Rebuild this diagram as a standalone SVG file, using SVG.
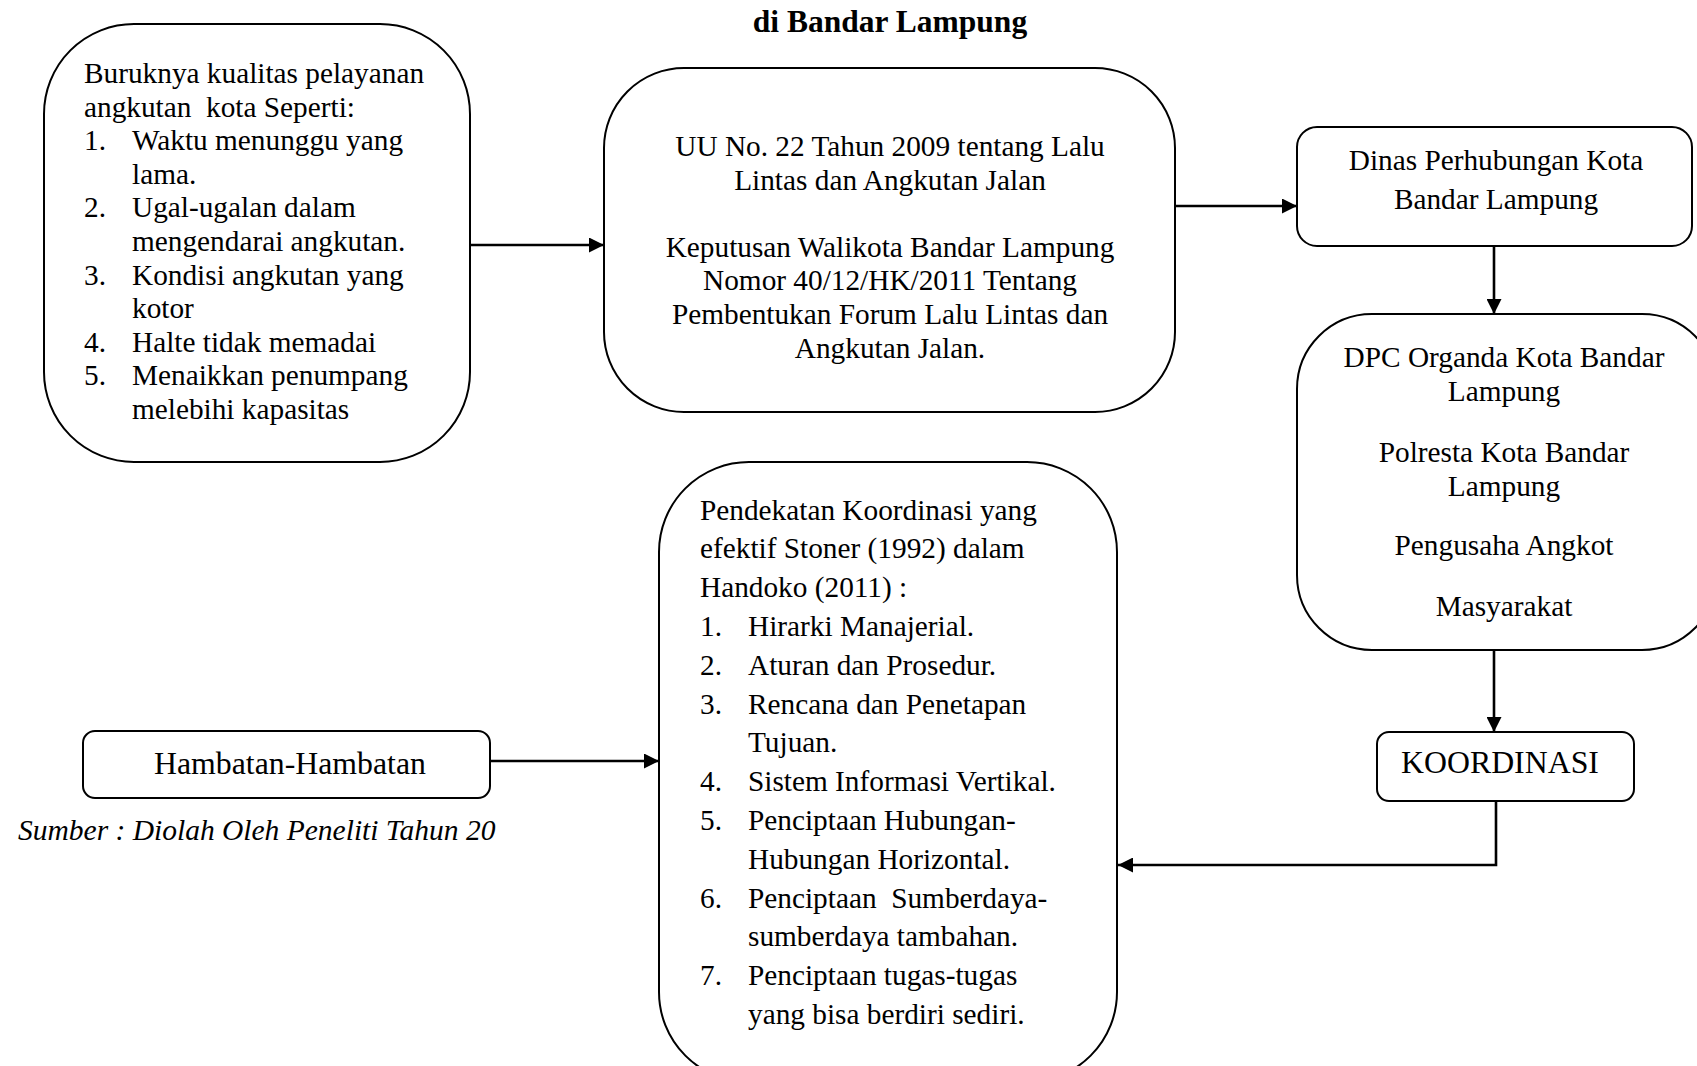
<svg xmlns="http://www.w3.org/2000/svg" width="1697" height="1066" viewBox="0 0 1697 1066">
<defs>
<marker id="ah" viewBox="0 0 10 10" refX="10" refY="5" markerWidth="15" markerHeight="15" markerUnits="userSpaceOnUse" orient="auto">
<path d="M0,0 L10,5 L0,10 Z" fill="#000"/>
</marker>
<style>
.box{fill:#fff;stroke:#000;stroke-width:2}
.t{font-family:"Liberation Serif","Times New Roman",serif;font-size:29.3px;fill:#000}
.c{text-anchor:middle}
.big{font-size:31.8px}
.con{fill:none;stroke:#000;stroke-width:2.6}
</style>
</defs>
<rect width="1697" height="1066" fill="#fff"/>
<text class="t c" x="890" y="32" style="font-weight:bold;font-size:31.5px">di Bandar Lampung</text>

<g id="node-masalah">
<rect class="box" x="44" y="24" width="426" height="438" rx="90" ry="90"/>
<text class="t" x="84" y="83">Buruknya kualitas pelayanan</text>
<text class="t" x="84" y="116.6" xml:space="preserve">angkutan  kota Seperti:</text>
<text class="t" x="84" y="150.2">1.</text><text class="t" x="132" y="150.2">Waktu menunggu yang</text>
<text class="t" x="132" y="183.8">lama.</text>
<text class="t" x="84" y="217.4">2.</text><text class="t" x="132" y="217.4">Ugal-ugalan dalam</text>
<text class="t" x="132" y="251">mengendarai angkutan.</text>
<text class="t" x="84" y="284.6">3.</text><text class="t" x="132" y="284.6">Kondisi angkutan yang</text>
<text class="t" x="132" y="318.2">kotor</text>
<text class="t" x="84" y="351.8">4.</text><text class="t" x="132" y="351.8">Halte tidak memadai</text>
<text class="t" x="84" y="385.4">5.</text><text class="t" x="132" y="385.4">Menaikkan penumpang</text>
<text class="t" x="132" y="419">melebihi kapasitas</text>
</g>

<g id="node-uu">
<rect class="box" x="604" y="68" width="571" height="344" rx="80" ry="80"/>
<text class="t c" x="890" y="156">UU No. 22 Tahun 2009 tentang Lalu</text>
<text class="t c" x="890" y="189.6">Lintas dan Angkutan Jalan</text>
<text class="t c" x="890" y="256.8">Keputusan Walikota Bandar Lampung</text>
<text class="t c" x="890" y="290.4">Nomor 40/12/HK/2011 Tentang</text>
<text class="t c" x="890" y="324">Pembentukan Forum Lalu Lintas dan</text>
<text class="t c" x="890" y="357.6">Angkutan Jalan.</text>
</g>

<g id="node-dinas">
<rect class="box" x="1297" y="127" width="395" height="119" rx="20" ry="20"/>
<text class="t c" x="1496" y="170">Dinas Perhubungan Kota</text>
<text class="t c" x="1496" y="209">Bandar Lampung</text>
</g>

<g id="node-pihak">
<rect class="box" x="1297" y="314" width="420" height="336" rx="75" ry="75"/>
<text class="t c" x="1504" y="367">DPC Organda Kota Bandar</text>
<text class="t c" x="1504" y="400.6">Lampung</text>
<text class="t c" x="1504" y="462">Polresta Kota Bandar</text>
<text class="t c" x="1504" y="495.6">Lampung</text>
<text class="t c" x="1504" y="555">Pengusaha Angkot</text>
<text class="t c" x="1504" y="616">Masyarakat</text>
</g>

<g id="node-koordinasi">
<rect class="box" x="1377" y="732" width="257" height="69" rx="12" ry="12"/>
<text class="t c big" x="1500" y="773">KOORDINASI</text>
</g>

<g id="node-hambatan">
<rect class="box" x="83" y="731" width="407" height="67" rx="12" ry="12"/>
<text class="t c big" x="290" y="774">Hambatan-Hambatan</text>
</g>

<text class="t" x="18" y="840" style="font-style:italic;font-size:29.5px">Sumber : Diolah Oleh Peneliti Tahun 20</text>

<g id="node-pendekatan">
<rect class="box" x="659" y="462" width="458" height="620" rx="90" ry="90"/>
<text class="t" x="700" y="519.5">Pendekatan Koordinasi yang</text>
<text class="t" x="700" y="558.3">efektif Stoner (1992) dalam</text>
<text class="t" x="700" y="597.1">Handoko (2011) :</text>
<text class="t" x="700" y="635.9">1.</text><text class="t" x="748" y="635.9">Hirarki Manajerial.</text>
<text class="t" x="700" y="674.7">2.</text><text class="t" x="748" y="674.7">Aturan dan Prosedur.</text>
<text class="t" x="700" y="713.5">3.</text><text class="t" x="748" y="713.5">Rencana dan Penetapan</text>
<text class="t" x="748" y="752.3">Tujuan.</text>
<text class="t" x="700" y="791.1">4.</text><text class="t" x="748" y="791.1">Sistem Informasi Vertikal.</text>
<text class="t" x="700" y="829.9">5.</text><text class="t" x="748" y="829.9">Penciptaan Hubungan-</text>
<text class="t" x="748" y="868.7">Hubungan Horizontal.</text>
<text class="t" x="700" y="907.5">6.</text><text class="t" x="748" y="907.5" xml:space="preserve">Penciptaan  Sumberdaya-</text>
<text class="t" x="748" y="946.3">sumberdaya tambahan.</text>
<text class="t" x="700" y="985.1">7.</text><text class="t" x="748" y="985.1">Penciptaan tugas-tugas</text>
<text class="t" x="748" y="1023.9">yang bisa berdiri sediri.</text>
</g>

<g id="connectors">
<line class="con" x1="470" y1="245" x2="604" y2="245" marker-end="url(#ah)"/>
<line class="con" x1="1175" y1="206" x2="1297" y2="206" marker-end="url(#ah)"/>
<line class="con" x1="1494" y1="246" x2="1494" y2="314" marker-end="url(#ah)"/>
<line class="con" x1="1494" y1="650" x2="1494" y2="732" marker-end="url(#ah)"/>
<polyline class="con" points="1496,801 1496,865 1118,865" marker-end="url(#ah)"/>
<line class="con" x1="490" y1="761" x2="659" y2="761" marker-end="url(#ah)"/>
</g>
</svg>
